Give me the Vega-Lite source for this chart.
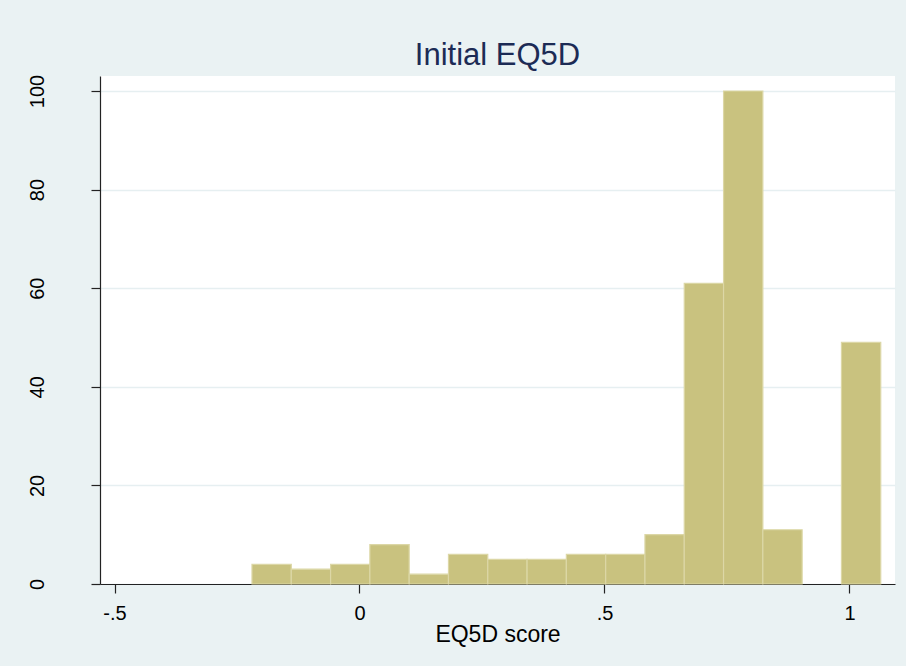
{
  "$schema": "https://vega.github.io/schema/vega-lite/v6.json",
  "autosize": "none",
  "width": 795,
  "height": 508,
  "padding": {"left": 100, "top": 76, "right": 11, "bottom": 82},
  "background": "#EAF2F3",
  "view": {"fill": "white", "stroke": null},
  "title": {
    "text": "Initial EQ5D",
    "font": "Liberation Sans",
    "fontSize": 31,
    "fontWeight": "normal",
    "color": "#1C2B55",
    "anchor": "middle",
    "baseline": "alphabetic",
    "offset": -22
  },
  "data": {
    "values": [
      {"bin_start": -0.2194, "bin_end": -0.1392, "count": 4},
      {"bin_start": -0.1392, "bin_end": -0.0590, "count": 3},
      {"bin_start": -0.0590, "bin_end": 0.0212, "count": 4},
      {"bin_start": 0.0212, "bin_end": 0.1014, "count": 8},
      {"bin_start": 0.1014, "bin_end": 0.1816, "count": 2},
      {"bin_start": 0.1816, "bin_end": 0.2618, "count": 6},
      {"bin_start": 0.2618, "bin_end": 0.3420, "count": 5},
      {"bin_start": 0.3420, "bin_end": 0.4222, "count": 5},
      {"bin_start": 0.4222, "bin_end": 0.5024, "count": 6},
      {"bin_start": 0.5024, "bin_end": 0.5826, "count": 6},
      {"bin_start": 0.5826, "bin_end": 0.6628, "count": 10},
      {"bin_start": 0.6628, "bin_end": 0.7430, "count": 61},
      {"bin_start": 0.7430, "bin_end": 0.8232, "count": 100},
      {"bin_start": 0.8232, "bin_end": 0.9034, "count": 11},
      {"bin_start": 0.9836, "bin_end": 1.0638, "count": 49}
    ]
  },
  "mark": {"type": "rect", "fill": "#C9C27F", "stroke": "#DCD7A6", "strokeWidth": 1.2},
  "encoding": {
    "x": {
      "field": "bin_start",
      "type": "quantitative",
      "scale": {"domain": [-0.5296, 1.0929], "nice": false, "zero": false},
      "axis": {
        "title": "EQ5D score",
        "values": [-0.5, 0, 0.5, 1],
        "labelExpr": "datum.value == -0.5 ? '-.5' : datum.value == 0.5 ? '.5' : datum.value == 0 ? '0' : '1'",
        "grid": false,
        "domainColor": "#222222",
        "domainWidth": 1.2,
        "tickColor": "#222222",
        "tickWidth": 1.2,
        "tickSize": 9,
        "labelFont": "Liberation Sans",
        "labelFontSize": 20,
        "labelColor": "#000000",
        "labelPadding": 10,
        "labelFlush": false,
        "titleFont": "Liberation Sans",
        "titleFontSize": 23,
        "titleFontWeight": "normal",
        "titleColor": "#000000",
        "titlePadding": 0
      }
    },
    "x2": {"field": "bin_end"},
    "y": {
      "field": "count",
      "type": "quantitative",
      "scale": {"domain": [0, 103.04], "nice": false},
      "axis": {
        "title": null,
        "values": [0, 20, 40, 60, 80, 100],
        "grid": true,
        "gridColor": "#E6EFF1",
        "gridWidth": 1.5,
        "domainColor": "#222222",
        "domainWidth": 1.2,
        "tickColor": "#222222",
        "tickWidth": 1.2,
        "tickSize": 9,
        "labelFont": "Liberation Sans",
        "labelFontSize": 20,
        "labelColor": "#000000",
        "labelAngle": -90,
        "labelAlign": "center",
        "labelBaseline": "alphabetic",
        "labelPadding": 48,
        "labelFlush": false
      }
    },
    "y2": {"datum": 0}
  }
}
